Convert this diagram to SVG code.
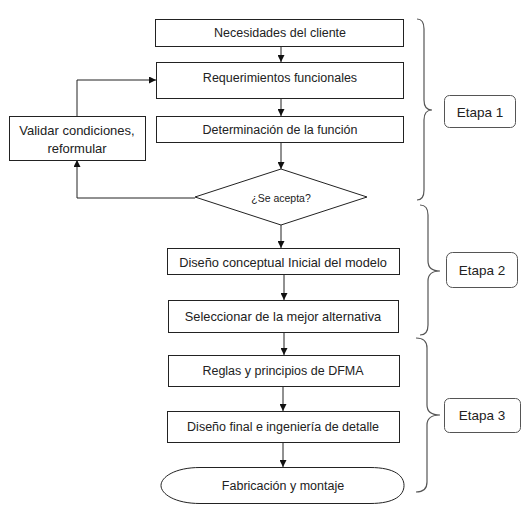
<svg xmlns="http://www.w3.org/2000/svg" width="530" height="512" viewBox="0 0 530 512">
<defs>
<style>
.box{fill:#fff;stroke:#222;stroke-width:1}
.t{font-family:"Liberation Sans",Arial,sans-serif;font-size:12.5px;fill:#222;text-anchor:middle;dominant-baseline:central}
.ln{fill:none;stroke:#222;stroke-width:1}
.br{fill:none;stroke:#555;stroke-width:1.2}
.lab{fill:#fff;stroke:#555;stroke-width:1}
</style>
<marker id="ah" viewBox="0 0 10 10" refX="10" refY="5" markerWidth="7" markerHeight="7" orient="auto" markerUnits="userSpaceOnUse">
<path d="M0,0 L10,5 L0,10 Z" fill="#111"/>
</marker>
</defs>
<rect width="530" height="512" fill="#fff"/>
<g id="connectors">
<line class="ln" x1="281" y1="46" x2="281" y2="62" marker-end="url(#ah)"/>
<line class="ln" x1="281" y1="98" x2="281" y2="116" marker-end="url(#ah)"/>
<line class="ln" x1="281" y1="142" x2="281" y2="169" marker-end="url(#ah)"/>
<polyline class="ln" points="195,198 77,198 77,160" marker-end="url(#ah)"/>
<polyline class="ln" points="77,116 77,80 156,80" marker-end="url(#ah)"/>
<line class="ln" x1="281" y1="225" x2="281" y2="248" marker-end="url(#ah)"/>
<line class="ln" x1="284" y1="274" x2="284" y2="300" marker-end="url(#ah)"/>
<line class="ln" x1="284" y1="332" x2="284" y2="355" marker-end="url(#ah)"/>
<line class="ln" x1="283" y1="386" x2="283" y2="411" marker-end="url(#ah)"/>
<line class="ln" x1="283" y1="442" x2="283" y2="467" marker-end="url(#ah)"/>
</g>
<g id="n1"><rect class="box" x="155.5" y="19.5" width="248" height="27"/><text class="t" x="280" y="33">Necesidades del cliente</text></g>
<g id="n2"><rect class="box" x="156.5" y="62.5" width="247" height="36"/><text class="t" x="280" y="78">Requerimientos funcionales</text></g>
<g id="n3"><rect class="box" x="156.5" y="116.5" width="247" height="26"/><text class="t" x="280" y="130">Determinación de la función</text></g>
<g id="n4"><polygon class="box" points="281,169 367,197 281,225 195,197"/><text class="t" x="281" y="198" style="font-size:10.5px">¿Se acepta?</text></g>
<g id="n5"><rect class="box" x="9.5" y="116.5" width="136" height="44"/><text class="t" x="77" y="130" style="font-size:13px">Validar condiciones,</text><text class="t" x="77" y="148" style="font-size:13px">reformular</text></g>
<g id="n6"><rect class="box" x="167.5" y="248.5" width="232" height="26"/><text class="t" x="283" y="262" style="font-size:12.8px">Diseño conceptual Inicial del modelo</text></g>
<g id="n7"><rect class="box" x="168.5" y="300.5" width="230" height="32"/><text class="t" x="283" y="316" style="font-size:12.8px">Seleccionar de la mejor alternativa</text></g>
<g id="n8"><rect class="box" x="168.5" y="355.5" width="231" height="31"/><text class="t" x="283" y="371">Reglas y principios de DFMA</text></g>
<g id="n9"><rect class="box" x="167.5" y="411.5" width="232" height="31"/><text class="t" x="283" y="427">Diseño final e ingeniería de detalle</text></g>
<g id="n10"><path class="box" d="M200,467.5 L370,467.5 C395,467.5 404,476 404,485.5 C404,495 395,503.5 370,503.5 L200,503.5 C175,503.5 161,494 161,485.5 C161,477 175,467.5 200,467.5 Z"/><text class="t" x="283" y="486">Fabricación y montaje</text></g>
<g id="brace1"><path class="br" d="M417,19 Q424,19 424,29 L424,100 Q424,110 432,110 Q424,110 424,120 L424,190 Q424,200 417,200"/></g>
<g id="brace2"><path class="br" d="M420,205 Q428,205 428,215 L428,261 Q428,271 440,271 Q428,271 428,281 L428,325 Q428,335 420,335"/></g>
<g id="brace3"><path class="br" d="M416,338 Q427,338 427,348 L427,405 Q427,415 440,415 Q427,415 427,425 L427,482 Q427,492 416,492"/></g>
<g id="etapa1"><rect class="lab" x="444.5" y="95.5" width="71" height="32" rx="5"/><text class="t" x="480" y="112" style="font-size:13.5px">Etapa 1</text></g>
<g id="etapa2"><rect class="lab" x="446.5" y="252.5" width="71" height="35" rx="6"/><text class="t" x="482" y="270" style="font-size:13.5px">Etapa 2</text></g>
<g id="etapa3"><rect class="lab" x="444.5" y="398.5" width="76" height="34" rx="5"/><text class="t" x="482" y="415" style="font-size:13.5px">Etapa 3</text></g>
</svg>
